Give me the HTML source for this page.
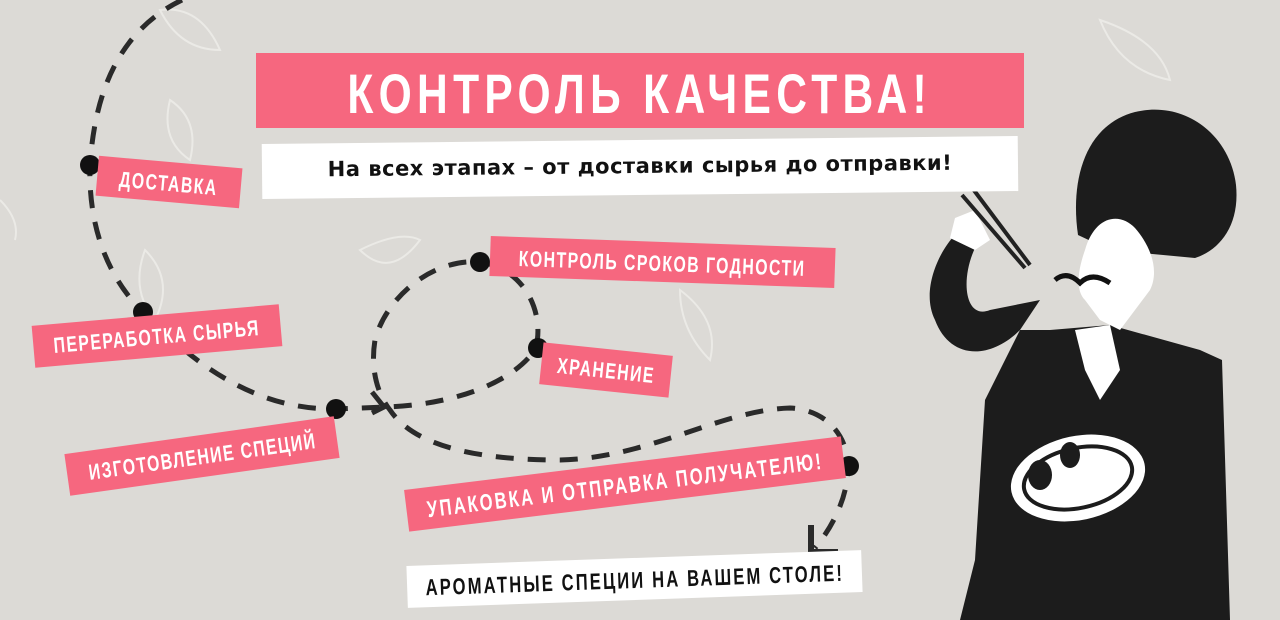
<!DOCTYPE html>
<html><head><meta charset="utf-8"><style>
body{margin:0;width:1280px;height:620px;overflow:hidden;background:#dcdad6;position:relative;font-family:"Liberation Sans",sans-serif}
.l{position:absolute;background:#f6677f;color:#fff;font-size:22px;font-weight:bold;letter-spacing:2px;white-space:nowrap;line-height:1;padding:11px 0 0 0;box-sizing:border-box;transform-origin:center;display:flex;justify-content:center}
.l span,.t span{display:inline-block;transform:scaleX(0.72);transform-origin:center;flex:none}
svg{position:absolute;left:0;top:0}
</style></head><body>
<svg width="1280" height="620" viewBox="0 0 1280 620">
<g fill="none" stroke="#ecebe8" stroke-width="2" opacity="0.9">
<path d="M160 10 q40 -5 60 40 q-40 0 -60 -40z M170 100 q30 20 20 60 q-30 -20 -20 -60z M360 250 q40 -20 60 -10 q-30 40 -60 10z M145 250 q30 30 10 70 q-25 -30 -10 -70z M680 290 q40 30 30 70 q-30 -30 -30 -70z M1100 20 q60 20 70 60 q-50 -10 -70 -60z M870 180 q30 -20 40 -10 q-20 30 -40 10z M0 200 q20 20 15 40"/>
</g>
<g fill="none" stroke="#2a2a2a" stroke-width="5" stroke-dasharray="18 14">
<path d="M182 0 C120 30 95 90 90 165 C88 230 110 280 143 312 C200 370 260 410 336 409 L385 407 C450 405 510 385 535 350 C545 320 530 270 480 262 C430 258 385 300 375 340 C370 370 378 395 390 410 C410 440 460 460 560 460 C650 458 720 410 790 408 C830 410 848 440 848 466 C848 500 830 530 815 548"/>
</g>
<path d="M372 392 L384 407 L372 413" fill="none" stroke="#2a2a2a" stroke-width="5"/>
<path d="M811 525 L811 552 L838 552" fill="none" stroke="#2a2a2a" stroke-width="6"/>
<g fill="#111"><circle cx="90" cy="165" r="10"/><circle cx="143" cy="312" r="10"/><circle cx="336" cy="409" r="10"/><circle cx="480" cy="262" r="10"/><circle cx="538" cy="348" r="10"/><circle cx="849" cy="466" r="10"/></g>
<g fill="#1c1c1c">
<path d="M1078 235 C1070 180 1085 125 1135 112 C1185 100 1230 135 1236 185 C1240 225 1220 250 1195 258 L1110 250z"/>
<path d="M1050 330 L1110 325 L1200 350 L1222 360 L1230 620 L960 620 L975 560 L985 400 L1020 330z"/>
<path d="M1020 330 C990 360 950 360 935 320 C920 290 940 250 955 235 L975 248 C960 280 965 320 990 310 L1040 300z"/>
</g>
<path d="M1085 250 C1095 215 1120 212 1135 228 C1150 245 1160 270 1150 290 L1120 330 L1100 320 L1085 300 C1075 290 1078 270 1085 250z" fill="#fff"/>
<path d="M1075 330 L1110 325 L1120 370 L1100 400 L1085 370z" fill="#fff"/>
<path d="M1055 280 q12 -10 25 3 q12 -12 30 0" fill="none" stroke="#111" stroke-width="5"/>
<path d="M955 218 L975 210 L990 240 L975 250 L950 238z" fill="#fff"/>
<path d="M970 185 L1030 265 M962 195 L1025 268" stroke="#222" stroke-width="4"/>
<ellipse cx="1078" cy="478" rx="68" ry="42" fill="#fff" transform="rotate(-12 1078 478)"/>
<ellipse cx="1078" cy="478" rx="55" ry="30" fill="none" stroke="#1c1c1c" stroke-width="4" transform="rotate(-12 1078 478)"/>
<ellipse cx="1040" cy="475" rx="12" ry="15" fill="#1c1c1c"/><ellipse cx="1070" cy="455" rx="10" ry="13" fill="#1c1c1c"/>
</svg>
<div style="position:absolute;left:256px;top:53px;width:768px;height:75px;background:#f6677f"></div>
<div class="t" style="position:absolute;left:256px;top:53px;width:768px;height:75px;color:#fff;font-size:56px;font-weight:bold;letter-spacing:7px;line-height:82px;white-space:nowrap;display:flex;justify-content:center"><span style="transform:scaleX(0.76)">КОНТРОЛЬ КАЧЕСТВА!</span></div>
<div style="position:absolute;left:262px;top:140px;width:756px;height:55px;background:#fff;transform:rotate(-0.6deg);font-family:'DejaVu Sans','Liberation Sans',sans-serif;font-size:21px;font-weight:bold;color:#111;text-align:center;line-height:52px;letter-spacing:0.5px">На всех этапах – от доставки сырья до отправки!</div>
<div class="l" style="left:97px;top:162px;width:144px;height:40px;transform:rotate(5deg)"><span>ДОСТАВКА</span></div>
<div class="l" style="left:33px;top:315px;width:248px;height:42px;transform:rotate(-5deg)"><span>ПЕРЕРАБОТКА СЫРЬЯ</span></div>
<div class="l" style="left:66px;top:435px;width:272px;height:42px;transform:rotate(-8deg)"><span>ИЗГОТОВЛЕНИЕ СПЕЦИЙ</span></div>
<div class="l" style="left:490px;top:242px;width:345px;height:40px;transform:rotate(2deg)"><span>КОНТРОЛЬ СРОКОВ ГОДНОСТИ</span></div>
<div class="l" style="left:541px;top:349px;width:130px;height:42px;transform:rotate(6deg)"><span>ХРАНЕНИЕ</span></div>
<div class="l" style="left:405px;top:463px;width:440px;height:42px;transform:rotate(-7deg);font-size:23px;letter-spacing:3px"><span>УПАКОВКА И ОТПРАВКА ПОЛУЧАТЕЛЮ!</span></div>
<div class="l" style="left:407px;top:558px;width:455px;height:42px;background:#fff;color:#111;transform:rotate(-2deg);font-size:23px;letter-spacing:3px"><span>АРОМАТНЫЕ СПЕЦИИ НА ВАШЕМ СТОЛЕ!</span></div>
</body></html>
